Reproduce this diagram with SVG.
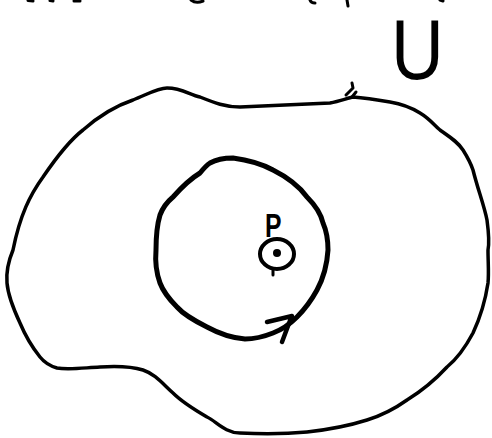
<svg xmlns="http://www.w3.org/2000/svg" width="492" height="438" viewBox="0 0 492 438">
<style>
.ink{fill:none;stroke:#000;stroke-linecap:round;stroke-linejoin:round}
.lbl{font-family:"Liberation Sans",Arial,sans-serif;fill:#000}
</style>
<rect width="492" height="438" fill="#fff"/>
<g id="top-fragments" class="ink" stroke-width="3">
<path d="M28,0.5 L33,1"/><path d="M50,0.5 L53,1"/><path d="M74,1 L80,1"/><path d="M191,0 Q196,4 203,1"/><path d="M310,0 Q311,3 315,3"/><path d="M347,0 L348,6"/><path d="M440,0 L443,1"/>
</g>
<g id="region-U">
<path class="ink" stroke-width="3.5" d="M13,250 C20,215 30,195 43,177 C58,155 70,140 83,130 C100,115 115,106 133,100 C148,94 158,88 167,88 C182,88 190,95 200,97 C215,103 225,107 240,107 L330,103 C340,101 348,98 353,97 C365,98 378,100 390,102 C402,104 412,108 420,113 C430,119 434,125 440,130 C450,137 458,142 463,150 C468,158 471,164 473,170 C478,190 484,205 487,220 C489,235 489,245 488,250 C488,262 489,273 488,283 C485,303 480,318 473,333 C465,348 458,358 447,367 C435,380 420,392 407,400 C393,410 380,416 367,420 C345,427 325,430 307,432 C285,434 262,434 240,433 C225,433 216,421 207,417 C195,410 182,402 173,393 C162,383 155,374 143,370 C130,366 115,366 100,367 C82,368 68,370 57,368 C50,366 44,362 40,357 C32,347 25,335 20,323 C13,308 8,295 7,283 C6,272 8,262 13,250 Z"/>
<path class="ink" stroke-width="3" d="M346,95 L353,88 L352,83 M352,97 L356,92"/>
<text class="lbl" x="0" y="0" font-size="86" font-weight="300" transform="translate(391,79) scale(0.85,1)">U</text>
</g>
<g id="loop">
<path class="ink" stroke-width="5" d="M233,158 C248,160 262,164 273,170 C287,177 299,186 307,197 C316,206 321,214 323,223 C327,232 328,241 328,250 C327,266 323,279 317,290 C311,301 305,309 297,317 C289,325 281,330 273,333 C263,337 254,339 245,339 C232,338 218,333 207,327 C195,321 184,315 177,307 C169,299 163,291 160,283 C156,272 155,262 156,250 C156,238 157,225 160,215 C163,207 167,202 173,197 C181,188 190,179 200,173 C204,168 207,165 210,163 C217,159 225,158 233,158 Z"/>
</g>
<g id="connectors">
<path class="ink" stroke-width="4.5" d="M267,322 L292,316 M282,342 L291,318"/>
</g>
<g id="point-P">
<ellipse class="ink" stroke-width="4" cx="277" cy="254" rx="17" ry="15"/>
<circle cx="277" cy="253" r="4" fill="#000"/>
<path class="ink" stroke-width="3" d="M273,269 L273,275"/>
<text class="lbl" x="0" y="0" font-size="33" font-weight="bold" transform="translate(265,237) scale(0.75,1)">P</text>
</g>
</svg>
